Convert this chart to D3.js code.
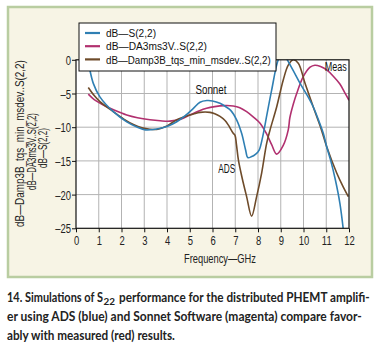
<!DOCTYPE html>
<html><head><meta charset="utf-8">
<script src="https://cdn.jsdelivr.net/npm/d3@7"></script>
<style>
html,body{margin:0;padding:0;background:#fff;}
svg{display:block;}
.cond{font-family:"Liberation Sans",Arial,sans-serif;}
</style></head><body>
<svg id="c" width="389" height="344"></svg>
<script>
// ---- data ----
const xTicks = [0,1,2,3,4,5,6,7,8,9,10,11,12];
const yTicks = [0,-5,-10,-15,-20,-25];
const seriesNames = ["dB\u2014S(2,2)","dB\u2014DA3ms3V..S(2,2)","dB\u2014Damp3B_tqs_min_msdev..S(2,2)"];
const seriesColors = ["#2f7fb3","#b1306f","#6e4b2a"];
// ADS (blue)
const adsF  = [0.45,0.54,0.76,1.05,1.64,2.23,2.7,3.05,3.5,4.0,4.43,4.8,5.16,5.45,5.75,6.0,6.33,6.6,6.8,7.06,7.28,7.45,7.55,7.7,7.9,8.05,8.2,8.4,8.6,8.89,9.1,9.29,9.55,9.85,10.15,10.43,10.7,10.87,11.02,11.2,11.4,11.6,11.75];
const adsDb = [0.5,-0.5,-3.5,-5.5,-7.7,-9.2,-10.0,-10.4,-10.3,-9.9,-9.2,-8.3,-7.2,-6.3,-6.05,-6.1,-6.45,-7.0,-7.5,-8.9,-10.9,-13.3,-14.5,-14.4,-14.0,-13.4,-11.5,-8.0,-4.5,0,1.2,0,-1.6,-3.5,-5.2,-7.0,-9.3,-10.9,-12.9,-15.0,-17.8,-21.3,-25.2];
// Sonnet (magenta)
const sonF  = [0.54,0.8,1.2,1.7,2.23,2.7,3.25,3.7,4.13,4.6,5.0,5.4,5.74,6.1,6.5,6.91,7.2,7.5,7.8,8.09,8.38,8.6,8.82,9.11,9.33,9.4,9.55,9.7,9.99,10.29,10.5,10.75,11.02,11.3,11.6,11.8,12.0];
const sonDb = [-5.1,-5.9,-6.7,-7.5,-8.2,-8.6,-8.9,-9.05,-9.1,-8.8,-8.2,-7.6,-7.2,-6.95,-6.8,-6.85,-7.1,-7.7,-8.5,-9.4,-11.0,-12.6,-14.0,-12.7,-10.4,-8.6,-6.6,-5.0,-2.5,-1.1,-0.8,-1.0,-1.5,-2.4,-3.6,-4.8,-6.0];
// Measured (brown)
const measF  = [0.54,0.8,1.05,1.64,2.1,2.52,2.9,3.25,3.6,4.0,4.43,4.8,5.16,5.45,5.89,6.1,6.33,6.55,6.7,6.91,6.99,7.05,7.14,7.3,7.5,7.72,7.94,8.16,8.38,8.53,8.82,9.11,9.33,9.55,9.77,10.07,10.43,10.75,11.02,11.46,11.75,11.97];
const measDb = [-4.1,-5.3,-6.2,-7.7,-8.8,-9.6,-10.1,-10.3,-10.3,-9.8,-8.9,-8.4,-8.05,-7.8,-7.8,-8.0,-8.4,-9.0,-9.7,-10.9,-11.2,-12.5,-14.9,-17.5,-20.3,-23.2,-20.3,-16.8,-12.4,-10.4,-7.0,-3.0,-0.8,0,-0.5,-3.5,-7.0,-10.0,-12.9,-16.8,-18.9,-20.3];
const seriesData = [[adsF,adsDb],[sonF,sonDb],[measF,measDb]];
const annotations = [{t:"Sonnet",f:5.93,d:-5.1},{t:"Meas",f:11.42,d:-1.7},{t:"ADS",f:6.63,d:-16.8}];

// squeeze a text horizontally to a given width (or by factor k) using a transform
function sq(sel, tx, ty, opt){
  sel.each(function(){
    const w = this.getComputedTextLength();
    const k = opt.w ? opt.w / w : opt.k;
    d3.select(this).attr("x",0).attr("y",0)
      .attr("transform",`translate(${tx},${ty})${opt.rot?` rotate(${opt.rot})`:""} scale(${k},1)`);
  });
}

const svg = d3.select("#c");
// panel
svg.append("rect").attr("x",8).attr("y",7).attr("width",364).attr("height",270)
  .attr("fill","#f7f4e5").attr("stroke","#b9cda1").attr("stroke-width",2.5);

const x = d3.scaleLinear().domain([0,12]).range([76,349]);
const y = d3.scaleLinear().domain([-25,0]).range([228.3,59.8]);

svg.append("rect").attr("x",x(0)).attr("y",y(0)).attr("width",x(12)-x(0)).attr("height",y(-25)-y(0)).attr("fill","#fff");

// grid
const g = svg.append("g");
g.selectAll(".vg").data(xTicks.slice(1,-1)).join("line")
  .attr("x1",d=>x(d)).attr("x2",d=>x(d)).attr("y1",y(0)).attr("y2",y(-25))
  .attr("stroke","#b3b3b3").attr("stroke-width",1);
g.selectAll(".hg").data(yTicks.slice(1,-1)).join("line")
  .attr("x1",x(0)).attr("x2",x(12)).attr("y1",d=>y(d)).attr("y2",d=>y(d))
  .attr("stroke","#b3b3b3").attr("stroke-width",1);

// clip
svg.append("clipPath").attr("id","pc").append("rect")
  .attr("x",x(0)).attr("y",y(0)).attr("width",x(12)-x(0)).attr("height",y(-25)-y(0));

const line = d3.line().curve(d3.curveCatmullRom.alpha(0.5));
const lg = svg.append("g").attr("clip-path","url(#pc)");
[1,2,0].forEach(i=>{
  const [fs,ds] = seriesData[i];
  lg.append("path").attr("d",line(fs.map((f,k)=>[x(f),y(ds[k])])))
    .attr("fill","none").attr("stroke",seriesColors[i]).attr("stroke-width",1.6);
});

// frame
svg.append("rect").attr("x",x(0)).attr("y",y(0)).attr("width",x(12)-x(0)).attr("height",y(-25)-y(0))
  .attr("fill","none").attr("stroke","#111").attr("stroke-width",1.2);

// axes
const xa = svg.append("g").attr("transform",`translate(0,${y(-25)})`)
  .call(d3.axisBottom(x).tickValues(xTicks).tickSize(4).tickFormat(d3.format("d")));
const ya = svg.append("g").attr("transform",`translate(${x(0)},0)`)
  .call(d3.axisLeft(y).tickValues(yTicks).tickSize(4).tickFormat(d=>d<0?"\u2013"+(-d):d));
[xa,ya].forEach(a=>{
  a.select(".domain").remove();
  a.selectAll("line").attr("stroke","#111");
  a.selectAll("text").attr("class","cond").attr("font-size",13.5).attr("fill","#222");
});
sq(xa.selectAll("text").attr("dy","0.71em"), 0, 7.5, {k:0.7});
sq(ya.selectAll("text").attr("dy","0.34em"), -5, 0, {k:0.7});

// x label
sq(svg.append("text").attr("class","cond").attr("text-anchor","middle")
  .attr("font-size",13.5).attr("fill","#222").text("Frequency\u2014GHz"), 220, 263, {w:72});
// y label (3 rotated lines)
[[seriesNames[2],23.5,143.5,167],[seriesNames[1],35.5,151.5,77],[seriesNames[0],47,148,40]].forEach(([t,bx,cy,w])=>{
  sq(svg.append("text").attr("class","cond").attr("text-anchor","middle")
    .attr("font-size",12).attr("fill","#222").text(t), bx, cy, {w:w, rot:-90});
});

// annotations
const annW = {"Sonnet":31,"Meas":22,"ADS":17};
annotations.forEach(a=>{
  sq(svg.append("text").attr("class","cond").attr("text-anchor","middle")
    .attr("font-size",13.5).attr("fill","#111").text(a.t), x(a.f), y(a.d), {w:annW[a.t]});
});

// legend
svg.append("rect").attr("x",79).attr("y",23).attr("width",197).attr("height",48)
  .attr("fill","#fff").attr("stroke","#111").attr("stroke-width",1);
const legW = [50,101,165];
seriesNames.forEach((n,i)=>{
  const yy = 33 + i*13.2;
  svg.append("line").attr("x1",85).attr("x2",100).attr("y1",yy).attr("y2",yy)
    .attr("stroke",seriesColors[i]).attr("stroke-width",2.2);
  sq(svg.append("text").attr("class","cond").attr("font-size",11.3).attr("fill","#111").text(n),
    106, yy+4.2, {w:legW[i]});
});

// caption
const cap = svg.append("g").attr("font-family","Lato, 'Open Sans', sans-serif").attr("font-weight","bold")
  .attr("font-size",13).attr("fill","#222");
sq(cap.append("text").text("14. Simulations of S"), 7, 301.5, {w:96});
sq(cap.append("text").attr("font-size",9.5).text("22"), 103.5, 304.5, {w:11.5});
sq(cap.append("text").text("performance for the distributed PHEMT amplifi-"), 119, 301.5, {w:251});
sq(cap.append("text").text("er using ADS (blue) and Sonnet Software (magenta) compare favor-"), 7, 321, {w:355});
sq(cap.append("text").text("ably with measured (red) results."), 7, 340, {w:168});
</script>
</body></html>
